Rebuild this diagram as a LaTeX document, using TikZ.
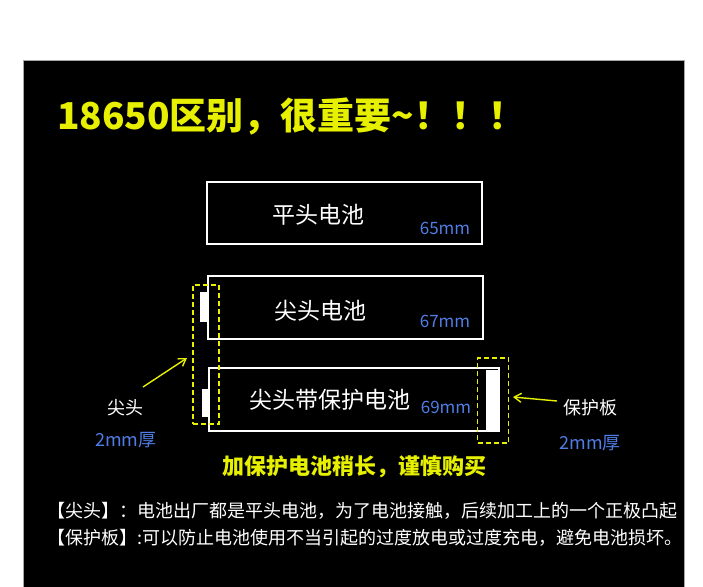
\documentclass[tikz,border=0pt]{standalone}
\usepackage{fontspec}
\setmainfont{Noto Sans CJK SC}
\usetikzlibrary{arrows.meta}
\definecolor{titleyellow}{RGB}{230,240,0}
\definecolor{mmblue}{RGB}{80,125,230}
\tikzset{
	cell/.style={draw=white, line width=1.8pt, inner sep=0pt},
	nub/.style={draw=white, fill=white, inner sep=0pt},
	mark box/.style={draw=titleyellow, dashed, dash pattern=on 5pt off 3pt, line width=1.6pt},
	celltext/.style={text=white, font=\fontsize{23}{25}\selectfont, inner sep=0pt},
	sizetext/.style={text=mmblue, font=\fontsize{17}{19}\selectfont, inner sep=0pt},
	sidetext/.style={text=white, font=\fontsize{18}{20}\selectfont, inner sep=0pt},
	notetext/.style={text=white, font=\fontsize{18}{20}\selectfont, inner sep=0pt, anchor=west},
	pointer/.style={draw=titleyellow, line width=1.4pt, -{Straight Barb[length=7pt,width=9pt]}}
}
\begin{document}
\begin{tikzpicture}[x=1pt,y=-1pt]
		\useasboundingbox (0,0) rectangle (703,586);
		\fill[white] (0,0) rectangle (703,586);
		\draw[fill=black, draw=gray!70, line width=0.8pt] (23,60) rectangle (684,590);
		
		\node (title) at (57,117) [anchor=west, text=titleyellow, inner sep=0pt, font=\bfseries\fontsize{37}{40}\selectfont] {18650区别，很重要\textasciitilde！！！};
		
		% batteries
		\node (flat) at (344.5,213) [cell, minimum width=275pt, minimum height=62pt] {};
		\node (flatname) at (318,215) [celltext] {平头电池};
		\node (flatsize) at (445,228) [sizetext] {65mm};
		
		\node (tip) at (345.5,307.5) [cell, minimum width=275pt, minimum height=63pt] {};
		\node (tipnub) at (204,306.5) [nub, minimum width=8pt, minimum height=29pt] {};
		\node (tipname) at (320,311) [celltext] {尖头电池};
		\node (tipsize) at (445,321) [sizetext] {67mm};
		
		\node (prot) at (354,399.5) [cell, minimum width=290pt, minimum height=63pt] {};
		\node (protnub) at (205.5,402.5) [nub, minimum width=7pt, minimum height=27pt] {};
		\node (board) at (492,400.5) [nub, minimum width=12pt, minimum height=61pt] {};
		\node (protname) at (330,400) [celltext] {尖头带保护电池};
		\node (protsize) at (446,407) [sizetext] {69mm};
		
		% marked parts
		\node (tipmark) at (206,354.5) [mark box, minimum width=26pt, minimum height=139pt] {};
		\node (boardmark) at (493,400.5) [mark box, minimum width=31pt, minimum height=85pt] {};
		
		\node (tiplabel) at (125,408) [sidetext] {尖头};
		\node (tipthick) at (126,440) [sidetext, text=mmblue] {2mm厚};
		\node (boardlabel) at (590,408) [sidetext] {保护板};
		\node (boardthick) at (590,443) [sidetext, text=mmblue] {2mm厚};
		
		\coordinate (tipfrom) at (143,387);
		\coordinate (tipto) at (187,358);
		\coordinate (boardfrom) at (557,401);
		\coordinate (boardto) at (513,397);
		\draw[pointer] (tipfrom) -- (tipto);
		\draw[pointer] (boardfrom) -- (boardto);
		
		\node (warn) at (354,467) [text=titleyellow, inner sep=0pt, font=\bfseries\fontsize{22}{24}\selectfont] {加保护电池稍长，谨慎购买};
		\node (noteA) at (47,511) [notetext] {【尖头】：电池出厂都是平头电池，为了电池接触，后续加工上的一个正极凸起};
		\node (noteB) at (47,538) [notetext] {【保护板】:可以防止电池使用不当引起的过度放电或过度充电，避免电池损坏。};
		
	\end{tikzpicture}
\end{document}
